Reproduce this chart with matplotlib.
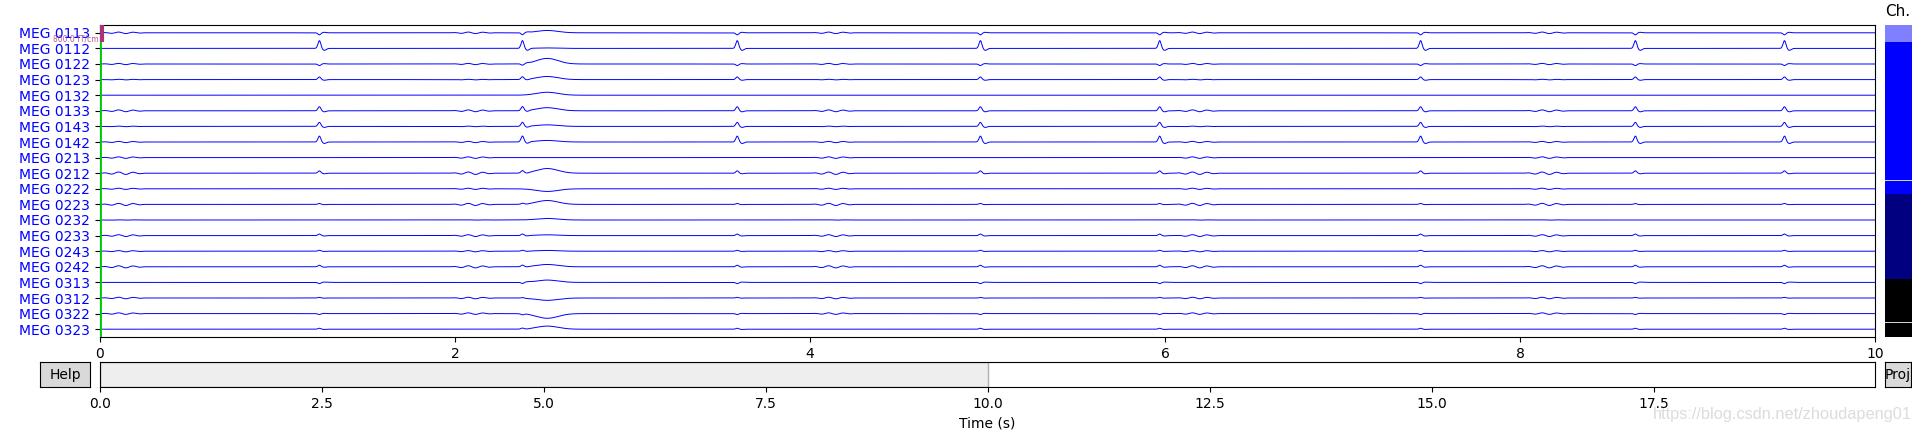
import numpy as np
import matplotlib.pyplot as plt
from matplotlib.patches import Rectangle

# channel names shown in the browser window
ch_names = ['MEG 0113', 'MEG 0112', 'MEG 0122', 'MEG 0123', 'MEG 0132',
            'MEG 0133', 'MEG 0143', 'MEG 0142', 'MEG 0213', 'MEG 0212',
            'MEG 0222', 'MEG 0223', 'MEG 0232', 'MEG 0233', 'MEG 0243',
            'MEG 0242', 'MEG 0313', 'MEG 0312', 'MEG 0322', 'MEG 0323']

# heartbeat artefact times (s) and per-channel size (in channel spacings, + is up)
spike_times = [1.236, 2.38, 3.59, 4.96, 5.97, 7.44, 8.65, 9.49]
spike_amp = [-0.13, 0.50, -0.10, 0.17, 0.0, 0.26, 0.26, 0.38, 0.0, 0.15,
             0.0, 0.06, 0.0, 0.10, 0.06, 0.10, -0.08, 0.04, -0.06, 0.06]

# slow blink-like deflection
blink_time = 2.52
blink_amp = [0.15, 0.03, 0.36, 0.20, 0.19, 0.20, 0.10, 0.10, 0.0, 0.30,
             -0.17, 0.25, 0.10, 0.05, 0.05, 0.15, 0.15, -0.15, -0.30, 0.20]

# short oscillatory bursts
burst_times = [0.0, 1.97, 4.0, 6.05, 8.02]
burst_amp = [0.05, 0.0, 0.04, 0.02, 0.0, 0.06, 0.02, 0.04, 0.05, 0.08,
             0.04, 0.07, 0.01, 0.06, 0.04, 0.07, 0.0, 0.05, 0.05, 0.0]

# channel-type blocks of the vertical scroll bar (counts, colours) and bad channels
type_counts = [204, 102, 70]
type_colors = ['#0000ff', '#000080', '#000000']
bad_idx = [187, 358]
n_view = 20

t = np.arange(0, 10.0, 0.002)


def trace(i):
    y = np.zeros_like(t)
    for ts in spike_times:
        y += spike_amp[i] * (np.exp(-0.5 * ((t - ts) / 0.008) ** 2)
                             - 0.25 * np.exp(-0.5 * ((t - ts - 0.028) / 0.01) ** 2))
    y += blink_amp[i] * np.exp(-0.5 * ((t - blink_time) / 0.06) ** 2)
    for tb in burst_times:
        m = (t >= tb) & (t <= tb + 0.26)
        w = np.sin(np.pi * (t[m] - tb) / 0.26)
        y[m] += burst_amp[i] * w * np.sin(2 * np.pi * 12 * (t[m] - tb))
    return y


W, H = 1912, 432
fig = plt.figure(figsize=(W / 100, H / 100), dpi=100)

def box(x0, y0, x1, y1):
    return [x0 / W, 1 - y1 / H, (x1 - x0) / W, (y1 - y0) / H]

ax = fig.add_axes(box(100, 25, 1875, 337))
ax_h = fig.add_axes(box(100, 362, 1875, 387))
ax_v = fig.add_axes(box(1885, 25, 1912, 337))
ax_help = fig.add_axes(box(40, 362, 90, 387))
ax_proj = fig.add_axes(box(1885, 362, 1911, 387))

# traces
for i in range(len(ch_names)):
    ax.plot(t, i - trace(i), color='b', lw=0.7, zorder=2)
ax.axvline(0, color='#00c800', lw=2, zorder=3)
ax.plot([0.01, 0.01], [-0.47, 0.6], color='#AA3377', lw=3, zorder=4,
        solid_capstyle='butt', clip_on=False)
ax.text(-0.01, 0.42, '800.0 fT/cm', color='#AA3377', fontsize=5.5,
        ha='right', va='center', alpha=0.8)
ax.set_xlim(0, 10)
ax.set_ylim(len(ch_names) - 0.5, -0.5)
ax.set_yticks(range(len(ch_names)))
ax.set_yticklabels(ch_names, color='b', fontsize=10)
ax.set_xticks(np.arange(0, 11, 2))
ax.tick_params(labelsize=10)

# horizontal scroll bar
ax_h.add_patch(Rectangle((0, 0), 10, 1, facecolor='#eeeeee', edgecolor='#b0b0b0', lw=1))
ax_h.set_xlim(0, 19.99)
ax_h.set_ylim(0, 1)
ax_h.set_yticks([])
ax_h.set_xticks(np.arange(0, 20, 2.5))
ax_h.tick_params(labelsize=10)
ax_h.set_xlabel('Time (s)', fontsize=10)

# vertical scroll bar
n_tot = sum(type_counts)
start = 0
for cnt, col in zip(type_counts, type_colors):
    ax_v.add_patch(Rectangle((0, start), 1, cnt, facecolor=col, edgecolor='none'))
    start += cnt
for b in bad_idx:
    ax_v.add_patch(Rectangle((0, b), 1, 1, facecolor='lightgray', edgecolor='none'))
ax_v.add_patch(Rectangle((0, 0), 1, n_view, facecolor='w', alpha=0.5, edgecolor='none'))
ax_v.set_xlim(0, 1)
ax_v.set_ylim(n_tot, 0)
ax_v.axis('off')
fig.text(1885 / W, 1 - 12 / H, 'Ch.', fontsize=11, ha='left', va='center')

# buttons
for a, label in [(ax_help, 'Help'), (ax_proj, 'Proj')]:
    a.set_facecolor('#d9d9d9')
    a.set_xticks([])
    a.set_yticks([])
    a.text(0.5, 0.5, label, ha='center', va='center', fontsize=10,
           transform=a.transAxes, clip_on=True)

fig.text(1653 / W, 1 - 414 / H, 'https://blog.csdn.net/zhoudapeng01',
         color='#dcdcdc', fontsize=11.8, family='Liberation Sans',
         ha='left', va='center')

fig.savefig('out.png', dpi=100)
